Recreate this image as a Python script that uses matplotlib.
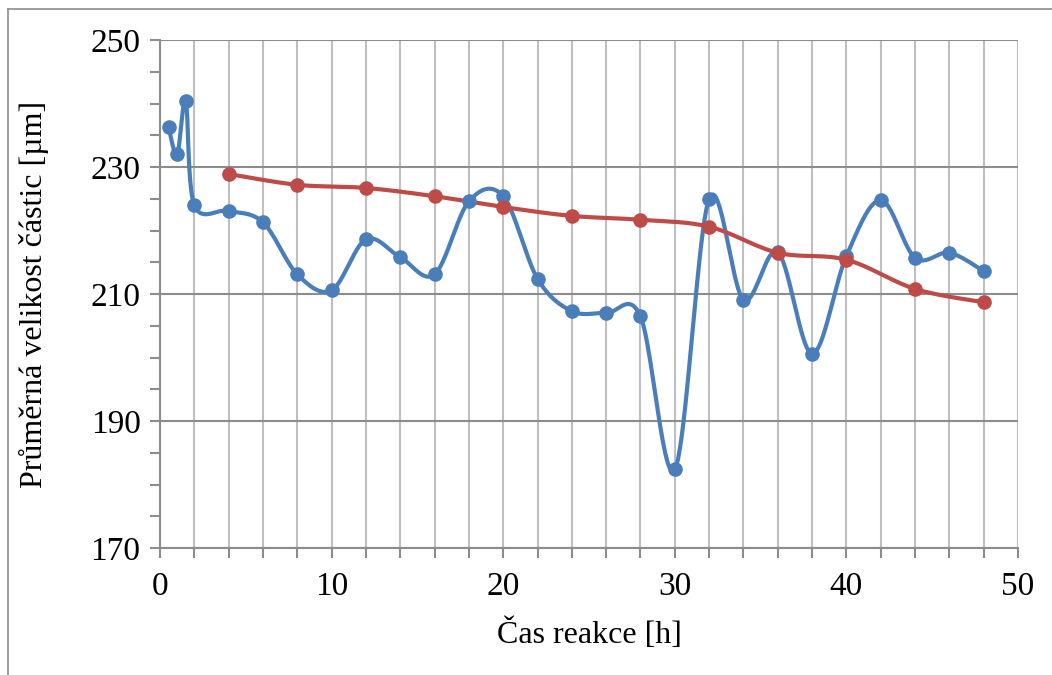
import matplotlib
matplotlib.use("Agg")
import matplotlib.pyplot as plt
import numpy as np
from matplotlib.lines import Line2D
from matplotlib.ticker import MultipleLocator

# data
cas_modra = [0.5, 1, 1.5, 2, 4, 6, 8, 10, 12, 14, 16, 18, 20, 22, 24, 26, 28,
             30, 32, 34, 36, 38, 40, 42, 44, 46, 48]
velikost_modra = [236.3, 232.0, 240.4, 224.0, 223.1, 221.3, 213.1, 210.6, 218.6,
                  215.8, 213.1, 224.6, 225.4, 212.4, 207.3, 207.0, 206.5,
                  182.4, 225.0, 209.1, 216.6, 200.6, 216.0, 224.8, 215.7, 216.5,
                  213.6]

cas_cervena = [4, 8, 12, 16, 20, 24, 28, 32, 36, 40, 44, 48]
velikost_cervena = [228.9, 227.2, 226.7, 225.4, 223.7, 222.3, 221.7, 220.6,
                    216.5, 215.4, 210.8, 208.7]

x_ticks = [0, 10, 20, 30, 40, 50]
y_ticks = [170, 190, 210, 230, 250]

MODRA = "#4A7EBB"
CERVENA = "#BE4B48"


def smooth(x, y, n=40):
    # Catmull-Rom style bezier, similar to Excel "smoothed line"
    p = np.column_stack([x, y]).astype(float)
    p = np.vstack([p[0], p, p[-1]])
    out = []
    t = np.linspace(0, 1, n)[:, None]
    for i in range(1, len(p) - 2):
        p0, p1, p2, p3 = p[i - 1], p[i], p[i + 1], p[i + 2]
        c1 = p1 + (p2 - p0) / 6
        c2 = p2 - (p3 - p1) / 6
        seg = ((1 - t) ** 3) * p1 + 3 * ((1 - t) ** 2) * t * c1 \
            + 3 * (1 - t) * t ** 2 * c2 + t ** 3 * p2
        out.append(seg)
    out = np.vstack(out)
    return out[:, 0], out[:, 1]


plt.rcParams["font.family"] = ["Liberation Serif", "DejaVu Serif"]

fig = plt.figure(figsize=(10.52, 6.75), dpi=100)
ax = fig.add_axes([0.1521, 0.1881, 0.8156, 0.7526])

ax.set_xlim(0, 50)
ax.set_ylim(170, 250)
ax.set_xticks(x_ticks)
ax.set_yticks(y_ticks)
ax.xaxis.set_minor_locator(MultipleLocator(2))
ax.yaxis.set_minor_locator(MultipleLocator(5))

ax.grid(True, which="minor", axis="x", color="#BFBFBF", linewidth=1.5)
ax.grid(True, which="major", axis="x", color="#BFBFBF", linewidth=1.5)
ax.grid(True, which="major", axis="y", color="#8C8C8C", linewidth=1.5)
ax.set_axisbelow(True)

for s in ["top", "right"]:
    ax.spines[s].set_visible(False)
for s in ["left", "bottom"]:
    ax.spines[s].set_color("#8C8C8C")
    ax.spines[s].set_linewidth(1.5)

ax.tick_params(axis="both", which="both", direction="out", color="#8C8C8C",
               width=1.5, length=7, labelsize=24)
ax.tick_params(axis="x", pad=10)
ax.tick_params(axis="y", pad=7)

xs, ys = smooth(cas_modra, velikost_modra)
ax.plot(xs, ys, color=MODRA, linewidth=3, solid_capstyle="round", zorder=3)
ax.plot(cas_modra, velikost_modra, "o", color=MODRA, markersize=9.5, zorder=4)

xs, ys = smooth(cas_cervena, velikost_cervena)
ax.plot(xs, ys, color=CERVENA, linewidth=3, solid_capstyle="round", zorder=3)
ax.plot(cas_cervena, velikost_cervena, "o", color=CERVENA, markersize=9.5,
        zorder=4)

ax.set_xlabel("Čas reakce [h]", fontsize=23, labelpad=12)
ax.set_ylabel("Průměrná velikost částic [µm]", fontsize=23, labelpad=30)

# outer chart frame (partly cut off in the reference)
fig.add_artist(Line2D([8 / 1052, 8 / 1052], [1 - 9 / 675, 0.0], color="#8C8C8C",
                      linewidth=1.2, transform=fig.transFigure))
fig.add_artist(Line2D([8 / 1052, 1.0], [1 - 9 / 675, 1 - 9 / 675],
                      color="#8C8C8C", linewidth=1.2, transform=fig.transFigure))

fig.savefig("out.png", dpi=100)
